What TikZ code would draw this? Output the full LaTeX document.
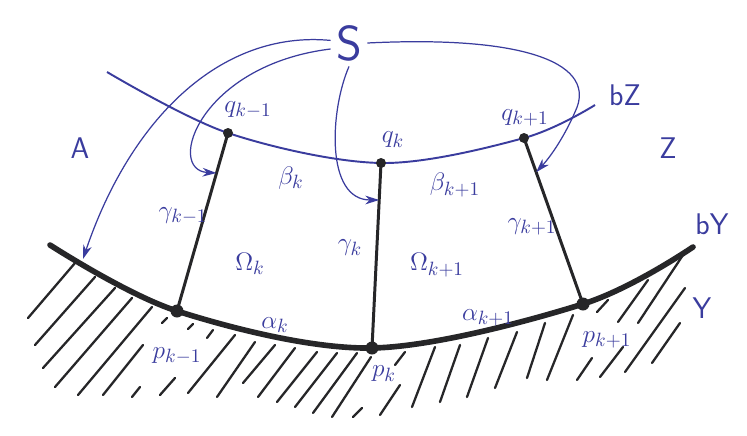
\documentclass[tikz,border=0pt]{standalone}
\usetikzlibrary{arrows.meta, calc, positioning}
\definecolor{inkblue}{RGB}{58,60,158}
\definecolor{inkblack}{RGB}{38,38,40}

\begin{document}
\begin{tikzpicture}[x=0.02cm, y=0.02cm,
    ink/.style={text=inkblue, font=\fontsize{15}{18}\selectfont, inner sep=1pt},
    inksf/.style={text=inkblue, font=\sffamily\fontsize{17}{20}\selectfont, inner sep=1pt},
    inkbig/.style={text=inkblue, font=\sffamily\fontsize{28}{32}\selectfont, inner sep=3pt},
    seg/.style={inkblack, line width=1.7pt},
    ground/.style={inkblack, line width=3.2pt, line cap=round},
    hatch/.style={inkblack, line width=1.3pt, line cap=round},
    curveZ/.style={inkblue, line width=1.1pt},
    sarrow/.style={inkblue, line width=0.7pt, -{Stealth[length=8pt, width=5pt]}}]

    \useasboundingbox[fill=white] (0,0) rectangle (747,-436);

    % points on bZ and bY
    \coordinate (zL) at (107,-72);
    \coordinate (qkm) at (228,-133);
    \coordinate (qk) at (381,-163);
    \coordinate (qkp) at (524,-138);
    \coordinate (zR) at (595,-105);
    \coordinate (yL) at (50,-245);
    \coordinate (pkm) at (177,-311);
    \coordinate (pk) at (372,-348);
    \coordinate (pkp) at (583,-304);
    \coordinate (yR) at (693,-247);

    % hatching under bY
    \foreach \a/\b/\c/\d in {75/263/28/318, 95/277/35/345, 115/288/43/368,
        132/298/55/387, 152/307/78/395, 167/318/162/323, 143/345/103/395,
        140/387/132/397, 175/378/160/395, 193/324/188/329, 213/330/207/338,
        235/335/188/393, 255/342/217/397, 275/345/243/383, 295/348/258/397,
        317/352/277/402, 337/353/295/407, 357/353/313/413, 371/357/332/417,
        362/408/353/417, 405/352/395/365, 400/385/380/415, 435/347/412/407,
        460/345/440/402, 488/338/467/397, 517/332/495/388, 545/323/527/378,
        573/315/547/380, 592/358/577/380, 608/300/597/312, 623/347/600/377,
        648/280/618/322, 683/255/638/323, 685/288/625/372, 680/323/652/363}
        \draw[hatch] (\a,-\b) -- (\c,-\d);

    % ground bY
    \draw[ground] plot[smooth, tension=0.55] coordinates {(yL) (pkm) (pk) (pkp) (yR)};

    % curve bZ
    \draw[curveZ] plot[smooth, tension=0.55] coordinates {(zL) (qkm) (qk) (qkp) (zR)};

    % cuts gamma
    \draw[seg] (qkm) -- (pkm);
    \draw[seg] (qk) -- (pk);
    \draw[seg] (qkp) -- (pkp);

    \foreach \q in {qkm, qk, qkp} \fill[inkblack] (\q) circle (5);
    \foreach \p in {pkm, pk, pkp} \fill[inkblack] (\p) circle (6.5);

    % labels
    \node[inkbig] (S) at (349,-43) {S};
    \node[inksf] (A) at (80,-148) {A};
    \node[inksf] (Z) at (668,-148) {Z};
    \node[inksf] (Y) at (702,-308) {Y};
    \node[inksf] (bZ) at (625,-95) {bZ};
    \node[inksf] (bY) at (712,-224) {bY};
    \node[ink] (lqkm) at (248,-110) {$q_{k-1}$};
    \node[ink] (lqk) at (393,-140) {$q_k$};
    \node[ink] (lqkp) at (525,-118) {$q_{k+1}$};
    \node[ink] (lbk) at (291,-178) {$\beta_k$};
    \node[ink] (lbkp) at (455,-185) {$\beta_{k+1}$};
    \node[ink] (lgkm) at (183,-216) {$\gamma_{k-1}$};
    \node[ink] (lgk) at (350,-248) {$\gamma_k$};
    \node[ink] (lgkp) at (532,-227) {$\gamma_{k+1}$};
    \node[ink] (lok) at (250,-264) {$\Omega_k$};
    \node[ink] (lokp) at (437,-265) {$\Omega_{k+1}$};
    \node[ink] (lak) at (275,-325) {$\alpha_k$};
    \node[ink] (lakp) at (488,-318) {$\alpha_{k+1}$};
    \node[ink] (lpkm) at (177,-356) {$p_{k-1}$};
    \node[ink] (lpk) at (384,-374) {$p_k$};
    \node[ink] (lpkp) at (607,-340) {$p_{k+1}$};

    % arrows from S
    \coordinate (tA) at (83,-259);
    \coordinate (t1) at ($(qkm)!0.225!(pkm)$);
    \coordinate (t2) at ($(qk)!0.2!(pk)$);
    \coordinate (t3) at ($(qkp)!0.206!(pkp)$);
    \draw[sarrow] (S.172) .. controls (220,-30) and (130,-120) .. (tA);
    \draw[sarrow] (S.198) .. controls (200,-65) and (165,-170) .. (t1);
    \draw[sarrow] (S.south) .. controls (330,-110) and (325,-200) .. (t2);
    \draw[sarrow] (S.east) .. controls (530,-35) and (598,-65) .. (575,-112)
        .. controls (565,-135) and (552,-155) .. (t3);
\end{tikzpicture}
\end{document}
